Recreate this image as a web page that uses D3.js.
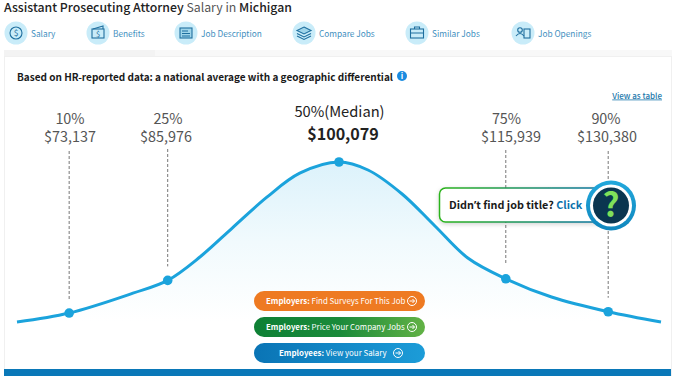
<!DOCTYPE html>
<html>
<head>
<meta charset="utf-8">
<script src="https://cdn.jsdelivr.net/npm/d3@7"></script>
<style>
  html, body { margin: 0; padding: 0; background: #fff; overflow: hidden; }
  text { font-family: "Noto Sans CJK SC", "Noto Sans", sans-serif; }
</style>
</head>
<body>
<div id="chart"></div>
<script>
// Values
const tabLabels = ["Salary", "Benefits", "Job Description", "Compare Jobs", "Similar Jobs", "Job Openings"];
const percentileLabels = ["10%", "25%", "50%(Median)", "75%", "90%"];
const salaryLabels = ["$73,137", "$85,976", "$100,079", "$115,939", "$130,380"];
// marker position along the curve (0-100) and curve height (0-100)
const markerPos = [8.1, 23.4, 50, 75.9, 91.8];
const markerHeight = [5.6, 26, 100, 27, 6.4];
const curvePos = [0, 8.1, 18, 23.4, 28.4, 33.5, 38.8, 43.9, 50, 54.5, 59.8, 64.9, 70, 75.9, 83, 91.8, 100];
const curveHeight = [0, 5.6, 18, 26, 40.6, 59, 78, 93, 100, 95, 80, 60, 40, 27, 15.6, 6.4, 0];
const buttonLabels = [
  ["Employers:", " Find Surveys For This Job"],
  ["Employers:", " Price Your Company Jobs"],
  ["Employees:", " View your Salary"]
];

const svg = d3.select("#chart").append("svg").attr("width", 675).attr("height", 376);
const defs = svg.append("defs");

function gradient(id, stops, vertical) {
  const g = defs.append("linearGradient").attr("id", id)
    .attr("x1", 0).attr("y1", 0).attr("x2", vertical ? 0 : 1).attr("y2", vertical ? 1 : 0);
  stops.forEach((c, i) => g.append("stop")
    .attr("offset", i / (stops.length - 1)).attr("stop-color", c));
}
gradient("areaFill", ["#dcf2fb", "#f1fafd", "#ffffff"], true);
gradient("btn0", ["#ee7a22", "#ee7a22"]);
gradient("btn1", ["#0e8035", "#1a8a3a", "#62b245"]);
gradient("btn2", ["#0a74b5", "#1c9cd8"]);
gradient("callout", ["#2ab31a", "#0b6fa8"]);
gradient("ring", ["#22a8dc", "#0f86bd"], true);

const shadow = defs.append("filter").attr("id", "soft")
  .attr("x", "-5%").attr("y", "-20%").attr("width", "110%").attr("height", "150%");
shadow.append("feDropShadow").attr("dx", 0).attr("dy", 1.5).attr("stdDeviation", 2)
  .attr("flood-color", "#000").attr("flood-opacity", 0.18);

// Header
const title = svg.append("text").attr("x", 4).attr("y", 12).attr("font-size", 12.3).attr("fill", "#222");
title.append("tspan").attr("font-weight", 500).text("Assistant Prosecuting Attorney");
title.append("tspan").attr("fill", "#555").text(" Salary in ");
title.append("tspan").attr("font-weight", 500).text("Michigan");

// Tabs
const tabIcon = [16, 98, 186, 304, 417, 523];
const tabText = [31, 113, 201, 319, 432, 538];
const tabs = svg.append("g");
tabLabels.forEach((t, i) => {
  tabs.append("circle").attr("cx", tabIcon[i]).attr("cy", 33).attr("r", 11.5).attr("fill", "#c9ecf9");
  tabs.append("text").attr("x", tabText[i]).attr("y", 36.5).attr("font-size", 8.3)
    .attr("fill", "#3f8fc0").text(t);
});
// simple icons, one line drawing per tab
const iconColor = "#1f6f9f";
const ic = i => tabs.append("g").attr("transform", `translate(${tabIcon[i]},33)`)
  .attr("fill", "none").attr("stroke", iconColor).attr("stroke-width", 1.1);
ic(0).call(g => {
  g.append("circle").attr("r", 6);
  g.append("text").attr("y", 3).attr("text-anchor", "middle").attr("font-size", 8.5)
    .attr("stroke", "none").attr("fill", iconColor).text("$");
});
ic(1).call(g => {
  g.append("rect").attr("x", -6).attr("y", -4).attr("width", 12).attr("height", 9);
  g.append("path").attr("d", "M-5,-4 L5,-7 L5,-4");
  g.append("text").attr("y", 3.5).attr("text-anchor", "middle").attr("font-size", 7.5)
    .attr("stroke", "none").attr("fill", iconColor).text("$");
});
ic(2).call(g => {
  g.append("rect").attr("x", -6).attr("y", -5).attr("width", 12).attr("height", 10).attr("fill", "#9fd5ea");
  g.append("path").attr("d", "M-4,-2H2M-4,0.5H4M-4,3H4");
});
ic(3).call(g => {
  g.append("path").attr("d", "M0,-6 L7,-2.5 L0,1 L-7,-2.5Z").attr("fill", "#9fd5ea");
  g.append("path").attr("d", "M-7,0.5 L0,4 L7,0.5M-7,3 L0,6.5 L7,3");
});
ic(4).call(g => {
  g.append("rect").attr("x", -6.5).attr("y", -4).attr("width", 13).attr("height", 9);
  g.append("path").attr("d", "M-2.5,-4V-6H2.5V-4M-6.5,0H6.5");
});
ic(5).call(g => {
  g.append("circle").attr("cx", -3).attr("cy", -3).attr("r", 2.3);
  g.append("path").attr("d", "M-7,3 Q-3,-2 1,3");
  g.append("rect").attr("x", 1).attr("y", -4).attr("width", 6).attr("height", 9);
});

// Panel frame
svg.append("rect").attr("x", 4).attr("y", 50).attr("width", 668).attr("height", 6).attr("fill", "#f8f8f8");
svg.append("rect").attr("x", 4).attr("y", 50).attr("width", 151).attr("height", 6).attr("fill", "#f3f3f3");
svg.append("rect").attr("x", 4.5).attr("y", 56.5).attr("width", 667).attr("height", 330)
  .attr("fill", "#fff").attr("stroke", "#f0f0f0");

// Panel heading
svg.append("text").attr("x", 17).attr("y", 81).attr("font-size", 10).attr("font-weight", 700)
  .attr("fill", "#1a1a1a").text("Based on HR-reported data: a national average with a geographic differential");
svg.append("circle").attr("cx", 402).attr("cy", 76).attr("r", 5).attr("fill", "#1a8be0");
svg.append("text").attr("x", 402).attr("y", 79).attr("text-anchor", "middle").attr("font-size", 8)
  .attr("font-weight", 700).attr("fill", "#fff").text("i");
svg.append("text").attr("x", 662).attr("y", 98.5).attr("text-anchor", "end").attr("font-size", 8)
  .attr("font-weight", 500).attr("fill", "#1c78ab").attr("text-decoration", "underline").text("View as table");

// Scales
const x = d3.scaleLinear().domain([0, 100]).range([17, 661]);
const y = d3.scaleLinear().domain([0, 100]).range([322, 162]);

const curvePts = curvePos.map((p, i) => [p, curveHeight[i]]);
const line = d3.line().x(d => x(d[0])).y(d => y(d[1])).curve(d3.curveCatmullRom.alpha(0.5));
const area = d3.area().x(d => x(d[0])).y0(y(0)).y1(d => y(d[1])).curve(d3.curveCatmullRom.alpha(0.5));

svg.append("path").datum(curvePts).attr("d", area).attr("fill", "url(#areaFill)");

// Dashed drop lines
const dashTop = [151, 149, null, 150, 151];
markerPos.forEach((p, i) => {
  if (dashTop[i] === null) return;
  svg.append("line").attr("x1", x(p)).attr("x2", x(p))
    .attr("y1", dashTop[i]).attr("y2", y(markerHeight[i]) - 14)
    .attr("stroke", "#777").attr("stroke-width", 1).attr("stroke-dasharray", "3,2");
});

svg.append("path").datum(curvePts).attr("d", line).attr("fill", "none")
  .attr("stroke", "#1ba3dc").attr("stroke-width", 3);

svg.selectAll(".marker").data(markerPos).enter().append("circle").attr("class", "marker")
  .attr("cx", d => x(d)).attr("cy", (d, i) => y(markerHeight[i])).attr("r", 4.8).attr("fill", "#1ba3dc");

// Percentile labels
const percentX = [70, 168, 339.5, 506.5, 606];
const salaryX = [70, 166, 343, 511, 607];
markerPos.forEach((p, i) => {
  const median = i === 2;
  svg.append("text").attr("x", percentX[i]).attr("y", median ? 117 : 124)
    .attr("text-anchor", "middle").attr("font-size", median ? 14.7 : 14.4)
    .attr("fill", median ? "#222" : "#555").text(percentileLabels[i]);
  svg.append("text").attr("x", salaryX[i]).attr("y", median ? 140 : 142)
    .attr("text-anchor", "middle").attr("font-size", median ? 16.1 : 14.4)
    .attr("font-weight", median ? 700 : 400)
    .attr("fill", median ? "#222" : "#555").text(salaryLabels[i]);
});

// Buttons
const btnY = [291, 317, 343];
buttonLabels.forEach((b, i) => {
  const g = svg.append("g");
  g.append("rect").attr("x", 254).attr("y", btnY[i]).attr("width", 171).attr("height", 20).attr("rx", 10)
    .attr("fill", `url(#btn${i})`);
  const tx = i === 2 ? 279 : 266;
  const t = g.append("text").attr("x", tx).attr("y", btnY[i] + 13).attr("font-size", 7.9).attr("fill", "#fff");
  t.append("tspan").attr("font-weight", 700).text(b[0]);
  t.append("tspan").text(b[1]);
  const cx = i === 2 ? 398 : 412;
  g.append("circle").attr("cx", cx).attr("cy", btnY[i] + 10).attr("r", 4.5)
    .attr("fill", "none").attr("stroke", "#fff").attr("stroke-width", 1);
  g.append("path").attr("d", `M${cx - 2.5},${btnY[i] + 10}H${cx + 2.5}M${cx + 0.5},${btnY[i] + 8}L${cx + 2.5},${btnY[i] + 10}L${cx + 0.5},${btnY[i] + 12}`)
    .attr("fill", "none").attr("stroke", "#fff").attr("stroke-width", 1);
});

// Callout
svg.append("rect").attr("x", 439.5).attr("y", 188).attr("width", 170).attr("height", 34).attr("rx", 6)
  .attr("fill", "#fff").attr("stroke", "url(#callout)").attr("stroke-width", 1.5).attr("filter", "url(#soft)");
const c = svg.append("text").attr("x", 449).attr("y", 209).attr("font-size", 10.8).attr("font-weight", 700).attr("fill", "#1a1a1a");
c.append("tspan").text("Didn");
c.append("tspan").attr("style", "font-family:'Noto Sans'").text("’");
c.append("tspan").text("t find job title? ");
c.append("tspan").attr("fill", "#0b72ad").text("Click");
svg.append("circle").attr("cx", 611).attr("cy", 205.5).attr("r", 25).attr("fill", "url(#ring)");
svg.append("circle").attr("cx", 611).attr("cy", 205.5).attr("r", 21).attr("fill", "#fff");
svg.append("circle").attr("cx", 611).attr("cy", 205.5).attr("r", 18).attr("fill", "#0a3650");
svg.append("text").attr("x", 611).attr("y", 217).attr("text-anchor", "middle").attr("font-size", 33)
  .attr("font-weight", 700).attr("fill", "#7fe05a").text("?");

// Bottom bar
svg.append("rect").attr("x", 4).attr("y", 369).attr("width", 667).attr("height", 7).attr("fill", "#0a78b8");
</script>
</body>
</html>
